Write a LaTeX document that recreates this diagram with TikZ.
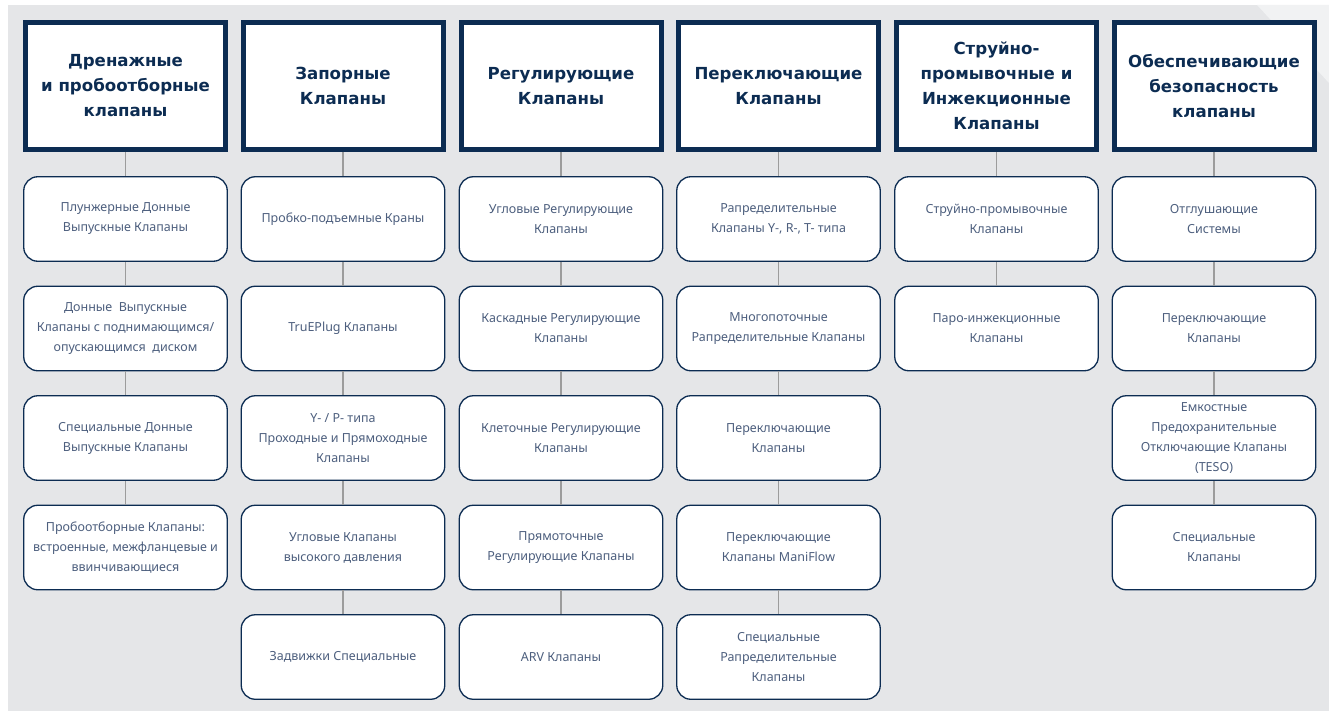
\documentclass[tikz,border=0pt]{standalone}
\usepackage{fontspec}
\setmainfont{Noto Sans}
\newfontfamily\hfont{DejaVu Sans}
\definecolor{navy}{HTML}{0C2C52}
\definecolor{bgc}{HTML}{E5E6E8}
\definecolor{lightc}{HTML}{F1F2F3}
\definecolor{linec}{HTML}{9C9C9C}
\definecolor{subtxt}{HTML}{4D5F7E}
\tikzset{
  head/.style={draw=navy, line width=5pt, fill=white, minimum width=200pt, minimum height=127pt,
    align=center, text=navy, font=\hfont\bfseries\fontsize{16.6}{25}\selectfont, inner sep=0pt},
  sub/.style={draw=navy, line width=1.3pt, fill=white, rounded corners=14pt, minimum width=203.5pt,
    minimum height=84.5pt, align=center, text=subtxt, font=\fontsize{12.5}{20}\selectfont, inner sep=0pt},
  conn/.style={draw=linec, line width=1.4pt}
}
\begin{document}
\begin{tikzpicture}[x=1pt,y=-1pt]
\useasboundingbox (0,0) rectangle (1329,711);
\fill[bgc] (8,5) rectangle (1329,711);
\fill[lightc] (1257,5) -- (1329,5) -- (1329,83) -- cycle;

% headers
\node[head] (h1) at (125.5,86) {Дренажные\\и пробоотборные\\клапаны};
\node[head] (h2) at (343,86) {Запорные\\Клапаны};
\node[head] (h3) at (561,86) {Регулирующие\\Клапаны};
\node[head] (h4) at (778.5,86) {Переключающие\\Клапаны};
\node[head] (h5) at (996.5,86) {Струйно-\\промывочные и\\Инжекционные\\Клапаны};
\node[head] (h6) at (1214,86) {Обеспечивающие\\безопасность\\клапаны};

% column 1
\node[sub] (a1) at (125.5,219) {Плунжерные Донные\\Выпускные Клапаны};
\node[sub] (a2) at (125.5,328.5) {Донные\ \ Выпускные\\Клапаны с поднимающимся/\\опускающимся\ \ диском};
\node[sub] (a3) at (125.5,438) {Специальные Донные\\Выпускные Клапаны};
\node[sub] (a4) at (125.5,547.5) {Пробоотборные Клапаны:\\встроенные, межфланцевые и\\ввинчивающиеся};

% column 2
\node[sub] (b1) at (343,219) {Пробко-подъемные Краны};
\node[sub] (b2) at (343,328.5) {TruEPlug Клапаны};
\node[sub] (b3) at (343,438) {Y- / P- типа\\Проходные и Прямоходные\\Клапаны};
\node[sub] (b4) at (343,547.5) {Угловые Клапаны\\высокого давления};
\node[sub] (b5) at (343,657) {Задвижки Специальные};

% column 3
\node[sub] (c1) at (561,219) {Угловые Регулирующие\\Клапаны};
\node[sub] (c2) at (561,328.5) {Каскадные Регулирующие\\Клапаны};
\node[sub] (c3) at (561,438) {Клеточные Регулирующие\\Клапаны};
\node[sub] (c4) at (561,547.5) {Прямоточные\\Регулирующие Клапаны};
\node[sub] (c5) at (561,657) {ARV Клапаны};

% column 4
\node[sub] (d1) at (778.5,219) {Рапределительные\\Клапаны Y-, R-, T- типа};
\node[sub] (d2) at (778.5,328.5) {Многопоточные\\Рапределительные Клапаны};
\node[sub] (d3) at (778.5,438) {Переключающие\\Клапаны};
\node[sub] (d4) at (778.5,547.5) {Переключающие\\Клапаны ManiFlow};
\node[sub] (d5) at (778.5,657) {Специальные\\Рапределительные\\Клапаны};

% column 5
\node[sub] (e1) at (996.5,219) {Струйно-промывочные\\Клапаны};
\node[sub] (e2) at (996.5,328.5) {Паро-инжекционные\\Клапаны};

% column 6
\node[sub] (f1) at (1214,219) {Отглушающие\\Системы};
\node[sub] (f2) at (1214,328.5) {Переключающие\\Клапаны};
\node[sub] (f3) at (1214,438) {Емкостные\\Предохранительные\\Отключающие Клапаны\\(TESO)};
\node[sub] (f4) at (1214,547.5) {Специальные\\Клапаны};

% connectors
\path[conn] (h1.south) -- (a1.north) (a1.south) -- (a2.north) (a2.south) -- (a3.north) (a3.south) -- (a4.north);
\path[conn] (h2.south) -- (b1.north) (b1.south) -- (b2.north) (b2.south) -- (b3.north) (b3.south) -- (b4.north) (b4.south) -- (b5.north);
\path[conn] (h3.south) -- (c1.north) (c1.south) -- (c2.north) (c2.south) -- (c3.north) (c3.south) -- (c4.north) (c4.south) -- (c5.north);
\path[conn] (h4.south) -- (d1.north) (d1.south) -- (d2.north) (d2.south) -- (d3.north) (d3.south) -- (d4.north) (d4.south) -- (d5.north);
\path[conn] (h5.south) -- (e1.north) (e1.south) -- (e2.north);
\path[conn] (h6.south) -- (f1.north) (f1.south) -- (f2.north) (f2.south) -- (f3.north) (f3.south) -- (f4.north);
\end{tikzpicture}
\end{document}
